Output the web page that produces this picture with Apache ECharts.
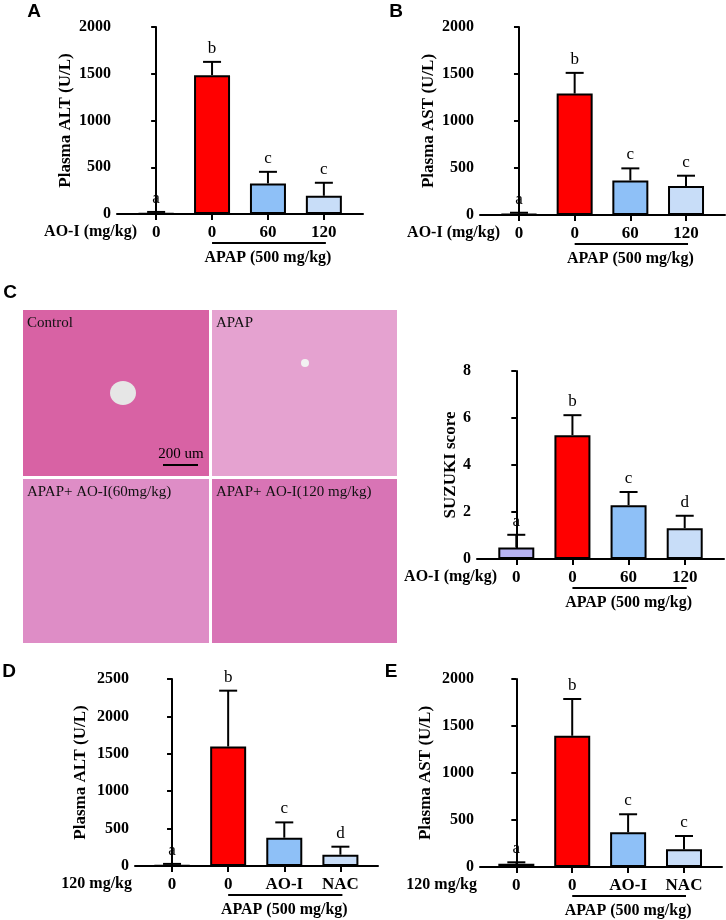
<!DOCTYPE html>
<html>
<head>
<meta charset="utf-8">
<script src="https://cdn.jsdelivr.net/npm/echarts@6/dist/echarts.min.js"></script>
<style>
  html, body { margin: 0; padding: 0; background: #fff; }
  #main { width: 726px; height: 920px; }
</style>
</head>
<body>
<div id="main"></div>
<script>
// 各组标签
var doseLabels = ['0', '0', '60', '120'];
var treatLabels = ['0', '0', 'AO-I', 'NAC'];
var barColors = ['#b7b3f3', '#ff0000', '#8ec0f7', '#c8ddf8'];

// A: Plasma ALT
var altMeanA = [8, 1485, 327, 195];
var altSdA = [14, 142, 124, 139];
var altLetterA = ['a', 'b', 'c', 'c'];
// B: Plasma AST
var astMeanB = [8, 1292, 368, 308];
var astSdB = [16, 220, 128, 110];
var astLetterB = ['a', 'b', 'c', 'c'];
// C: SUZUKI score
var suzukiMean = [0.49, 5.27, 2.29, 1.31];
var suzukiSd = [0.54, 0.85, 0.56, 0.53];
var suzukiLetter = ['a', 'b', 'c', 'd'];
// D: Plasma ALT (AO-I vs NAC)
var altMeanD = [8, 1597, 378, 151];
var altSdD = [20, 747, 205, 107];
var altLetterD = ['a', 'b', 'c', 'd'];
// E: Plasma AST (AO-I vs NAC)
var astMeanE = [35, 1396, 369, 188];
var astSdE = [15, 391, 192, 142];
var astLetterE = ['a', 'b', 'c', 'c'];

var serif = '"Liberation Serif", "Times New Roman", serif';
var sans = '"Liberation Sans", Arial, sans-serif';

var panels = [
    {grid: {left: 117, top: 27, width: 246, height: 187}, xMin: -0.7, xMax: 3.7, yMax: 2000, yStep: 500,
     yName: 'Plasma ALT (U/L)', nameGap: 43, ticks: doseLabels, group: 'AO-I (mg/kg)', groupDx: 20,
     mean: altMeanA, sd: altSdA, letters: altLetterA},
    {grid: {left: 480, top: 27, width: 245, height: 188}, xMin: -0.7, xMax: 3.7, yMax: 2000, yStep: 500,
     yName: 'Plasma AST (U/L)', nameGap: 43, ticks: doseLabels, group: 'AO-I (mg/kg)', groupDx: 20,
     mean: astMeanB, sd: astSdB, letters: astLetterB},
    {grid: {left: 477, top: 371, width: 247, height: 188}, xMin: -0.7, xMax: 3.7, yMax: 8, yStep: 2,
     yName: 'SUZUKI score', nameGap: 17, ticks: doseLabels, group: 'AO-I (mg/kg)', groupDx: 20,
     mean: suzukiMean, sd: suzukiSd, letters: suzukiLetter},
    {grid: {left: 135, top: 679, width: 243, height: 187}, xMin: -0.66, xMax: 3.67, yMax: 2500, yStep: 500,
     yName: 'Plasma ALT (U/L)', nameGap: 46, ticks: treatLabels, group: '120 mg/kg', groupDx: -3,
     mean: altMeanD, sd: altSdD, letters: altLetterD},
    {grid: {left: 480, top: 679, width: 242, height: 188}, xMin: -0.65, xMax: 3.68, yMax: 2000, yStep: 500,
     yName: 'Plasma AST (U/L)', nameGap: 46, ticks: treatLabels, group: '120 mg/kg', groupDx: -3,
     mean: astMeanE, sd: astSdE, letters: astLetterE}
];

var grids = [], xAxes = [], yAxes = [], series = [];
panels.forEach(function (p, k) {
    var g = p.grid;
    grids.push({left: g.left, top: g.top, width: g.width, height: g.height, outerBoundsMode: 'none'});
    xAxes.push({
        type: 'value', gridIndex: k, min: p.xMin, max: p.xMax,
        splitLine: {show: false},
        axisLine: {show: true, lineStyle: {color: '#000', width: 2}},
        axisTick: {show: true, customValues: [0, 1, 2, 3], length: 6, lineStyle: {color: '#000', width: 2}},
        axisLabel: {
            customValues: [0, 1, 2, 3], margin: 10,
            color: '#000', fontFamily: serif, fontWeight: 'bold', fontSize: 17,
            formatter: function (v) { return p.ticks[Math.round(v)]; }
        }
    });
    yAxes.push({
        type: 'value', gridIndex: k, min: 0, max: p.yMax, interval: p.yStep,
        name: p.yName, nameLocation: 'middle', nameGap: p.nameGap,
        nameTextStyle: {color: '#000', fontFamily: serif, fontWeight: 'bold', fontSize: 17},
        splitLine: {show: false},
        axisLine: {show: true, lineStyle: {color: '#000', width: 2}},
        axisTick: {show: true, length: 5, lineStyle: {color: '#000', width: 2}},
        axisLabel: {margin: 6, color: '#000', fontFamily: serif, fontWeight: 'bold', fontSize: 16,
                    formatter: function (v) { return String(v); }}
    });
    series.push({
        type: 'bar', xAxisIndex: k, yAxisIndex: k, barWidth: 36, z: 2,
        data: p.mean.map(function (m, i) {
            return {value: [i, m], itemStyle: {color: barColors[i], borderColor: '#000', borderWidth: 2}};
        })
    });
    // 误差线 + 显著性字母
    series.push({
        type: 'custom', xAxisIndex: k, yAxisIndex: k, z: 3, clip: false,
        data: p.mean.map(function (m, i) { return [i, m, p.sd[i]]; }),
        encode: {x: 0, y: 1},
        renderItem: function (params, api) {
            var x = api.value(0), m = api.value(1), s = api.value(2);
            var base = api.coord([x, m]);
            var top = api.coord([x, m + s]);
            return {
                type: 'group',
                children: [
                    {type: 'line', shape: {x1: base[0], y1: base[1], x2: top[0], y2: top[1]},
                     style: {stroke: '#000', lineWidth: 2}},
                    {type: 'line', shape: {x1: top[0] - 9, y1: top[1], x2: top[0] + 9, y2: top[1]},
                     style: {stroke: '#000', lineWidth: 2}},
                    {type: 'text', x: top[0], y: top[1] - 5,
                     style: {text: p.letters[params.dataIndex], fill: '#000', fontSize: 17, fontFamily: serif,
                             align: 'center', verticalAlign: 'bottom'}}
                ]
            };
        }
    });
});

var chart = echarts.init(document.getElementById('main'));
chart.setOption({
    animation: false,
    backgroundColor: '#fff',
    grid: grids,
    xAxis: xAxes,
    yAxis: yAxes,
    series: series
});

// 组注释、面板字母、病理图占位
var graphics = [];
var letterPos = [['A', 34, 12], ['B', 396, 12], ['C', 10, 293], ['D', 9, 672], ['E', 391, 672]];
letterPos.forEach(function (l) {
    graphics.push({type: 'text', x: l[1], y: l[2],
        style: {text: l[0], fill: '#000', fontSize: 19, fontWeight: 'bold', fontFamily: sans,
                align: 'center', verticalAlign: 'middle'}});
});

panels.forEach(function (p, k) {
    var f = {xAxisIndex: k, yAxisIndex: k};
    var c1 = chart.convertToPixel(f, [1, 0]);
    var c2 = chart.convertToPixel(f, [2, 0]);
    var c3 = chart.convertToPixel(f, [3, 0]);
    var axisY = c1[1];
    graphics.push({type: 'text', x: p.grid.left + p.groupDx, y: axisY + 18,
        style: {text: p.group, fill: '#000', fontSize: 16, fontWeight: 'bold', fontFamily: serif,
                align: 'right', verticalAlign: 'middle'}});
    graphics.push({type: 'line', shape: {x1: c1[0], y1: axisY + 29, x2: c3[0] + 2, y2: axisY + 29},
        style: {stroke: '#000', lineWidth: 2}});
    graphics.push({type: 'text', x: c2[0], y: axisY + 44,
        style: {text: 'APAP (500 mg/kg)', fill: '#000', fontSize: 16, fontWeight: 'bold', fontFamily: serif,
                align: 'center', verticalAlign: 'middle'}});
});

var photos = [
    {x: 23, y: 310, w: 186, h: 166, color: '#d862a4', label: 'Control'},
    {x: 212, y: 310, w: 185, h: 166, color: '#e5a2d0', label: 'APAP'},
    {x: 23, y: 479, w: 186, h: 164, color: '#de8dc6', label: 'APAP+ AO-I(60mg/kg)'},
    {x: 212, y: 479, w: 185, h: 164, color: '#d874b5', label: 'APAP+ AO-I(120 mg/kg)'}
];
photos.forEach(function (ph) {
    graphics.push({type: 'rect', shape: {x: ph.x, y: ph.y, width: ph.w, height: ph.h},
        style: {fill: ph.color}});
    graphics.push({type: 'text', x: ph.x + 4, y: ph.y + 13,
        style: {text: ph.label, fill: '#111', fontSize: 15, fontFamily: serif, align: 'left', verticalAlign: 'middle'}});
});
// 中央静脉与比例尺
graphics.push({type: 'ellipse', shape: {cx: 123, cy: 393, rx: 13, ry: 12}, style: {fill: '#e6e6e6'}});
graphics.push({type: 'circle', shape: {cx: 305, cy: 363, r: 4}, style: {fill: '#f2f2f2'}});
graphics.push({type: 'text', x: 181, y: 454,
    style: {text: '200 um', fill: '#000', fontSize: 15, fontFamily: serif, align: 'center', verticalAlign: 'middle'}});
graphics.push({type: 'line', shape: {x1: 163, y1: 465, x2: 198, y2: 465}, style: {stroke: '#000', lineWidth: 2}});

chart.setOption({graphic: graphics});
</script>
</body>
</html>
